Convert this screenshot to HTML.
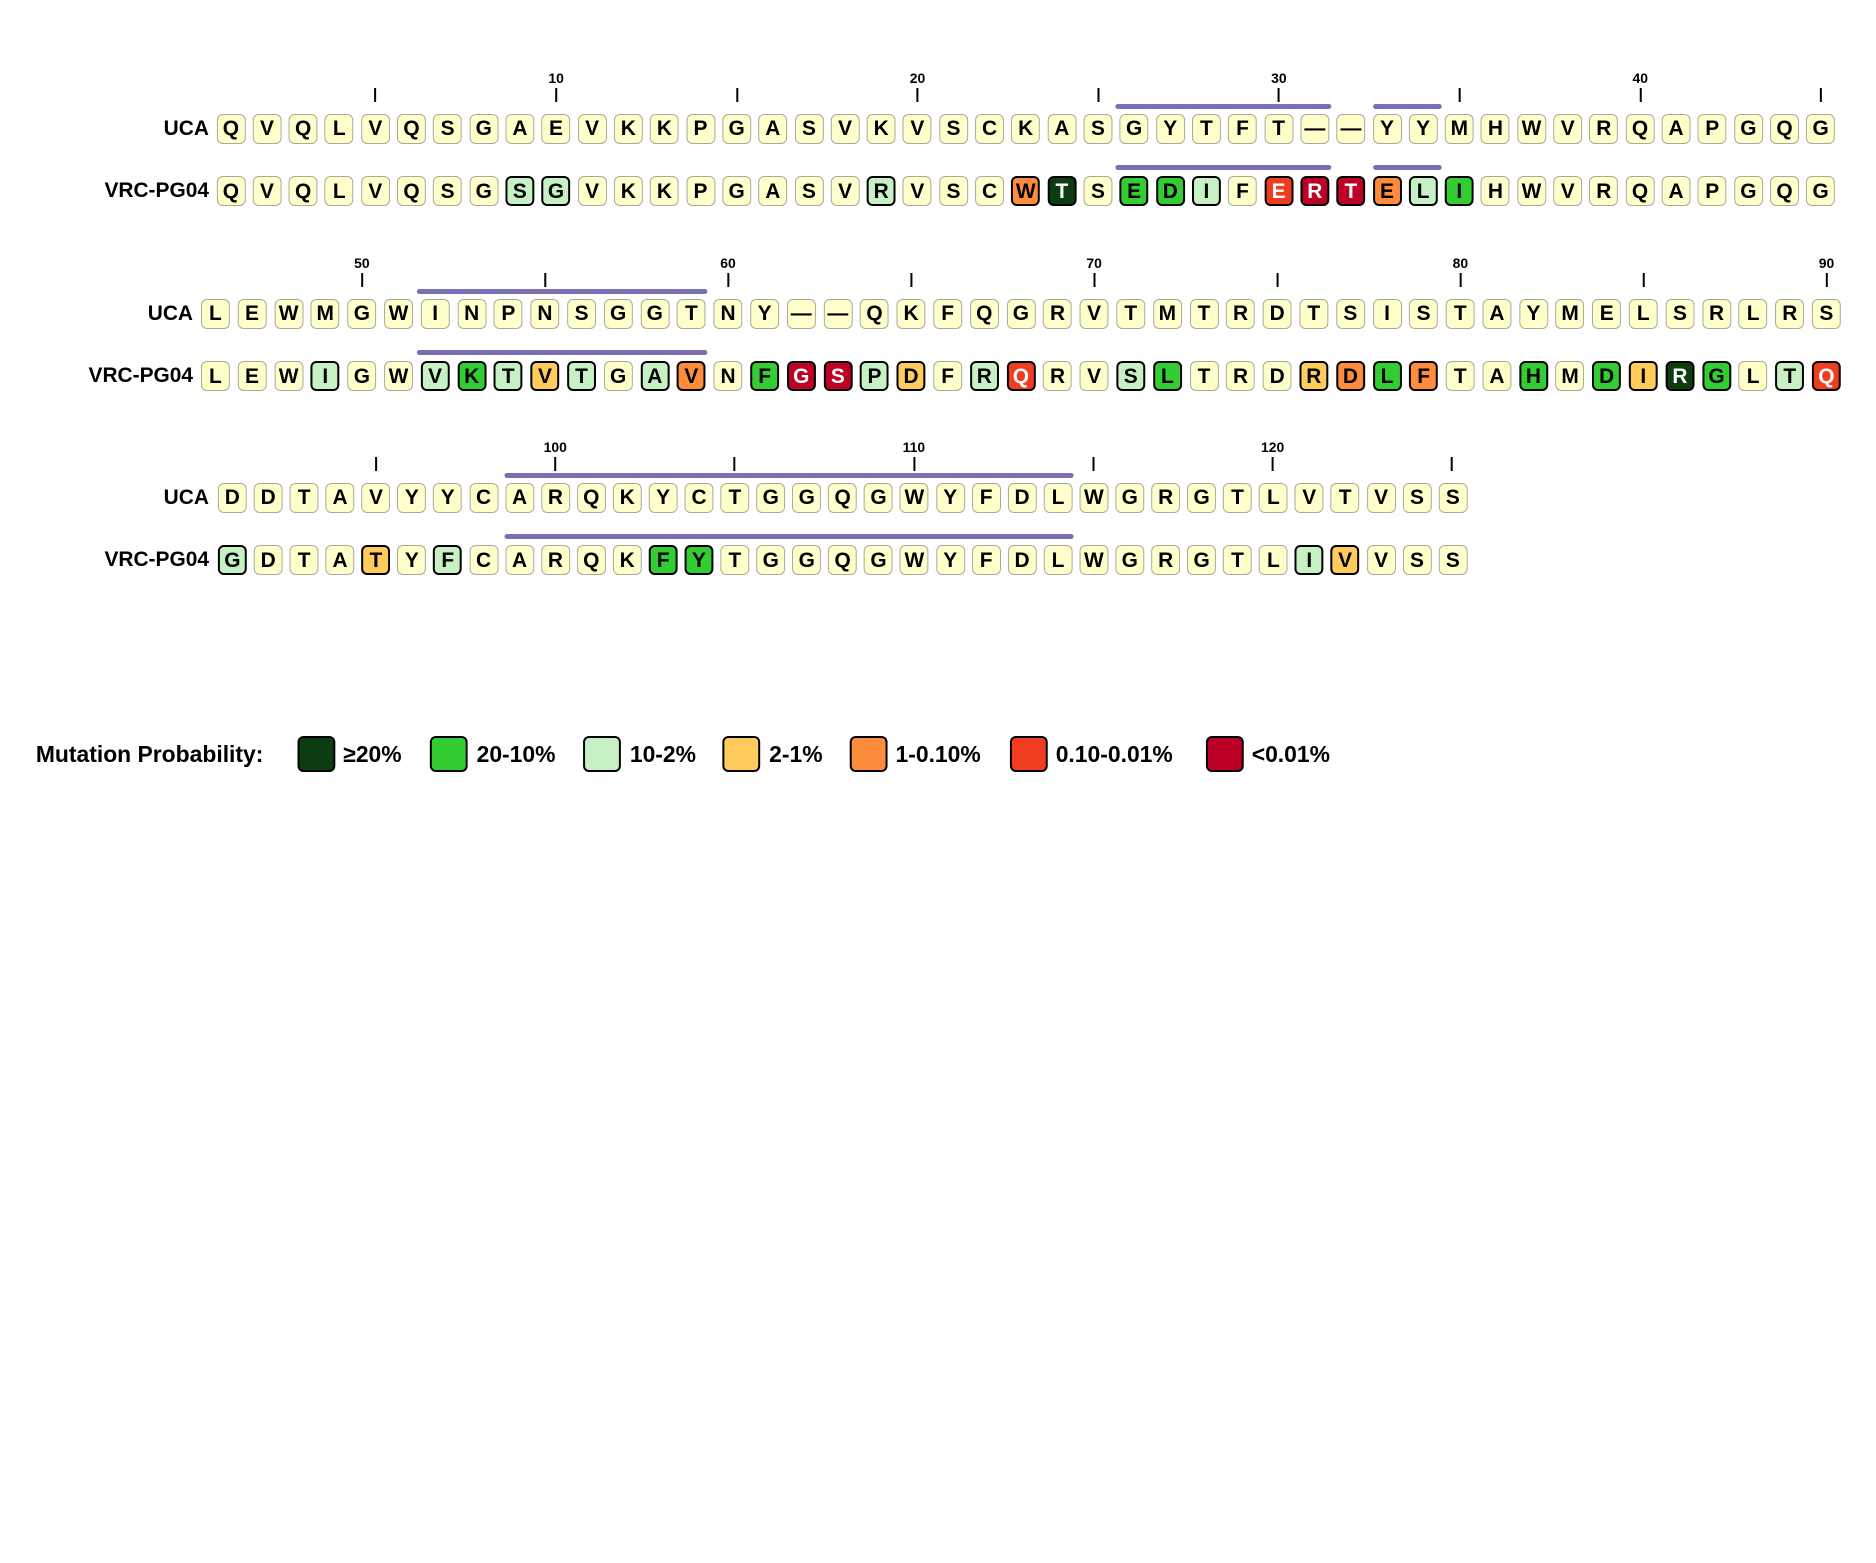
<!DOCTYPE html>
<html><head><meta charset="utf-8"><style>
html,body{margin:0;padding:0;background:#fff}
body{width:1876px;height:1563px;position:relative;overflow:hidden;font-family:"Liberation Sans",sans-serif;font-weight:bold;color:#000}
#w{position:absolute;left:0;top:0;width:1876px;height:1563px;transform:scaleX(0.995);transform-origin:0 0}
.r{position:absolute;display:flex;height:30px}
.r span{width:29px;height:30px;box-sizing:border-box;border:1.5px solid #aaa99a;border-radius:6px;background:#ffffcc;font-size:21px;display:flex;align-items:center;justify-content:center;flex:none;line-height:1}
.r1{left:217.5px;gap:7.32px}
.r2{left:202px;gap:7.8px}
.r3{left:220px;gap:7.08px}
.r span.a,.r span.b,.r span.c,.r span.d,.r span.e,.r span.f,.r span.g{border:2.5px solid #000}
.a{background:#0c3d11!important;color:#fff}
.b{background:#33cc33!important}
.c{background:#c7f0c5!important}
.d{background:#fecb5c!important}
.e{background:#fd8c3c!important}
.f{background:#f03c20!important;color:#fff}
.g{background:#bd0026!important;color:#fff}
.lab{position:absolute;font-size:21px;text-align:right;width:200px;line-height:30px}
.t{position:absolute;width:2px;height:14px;background:#000;margin-left:-1px}
.n{position:absolute;font-size:14px;width:40px;margin-left:-20px;text-align:center;line-height:16px}
.bar{position:absolute;height:5px;background:#7a6fb4;border-radius:3px}
.sw{position:absolute;top:736px;width:38px;height:36px;box-sizing:border-box;border:2px solid #000;border-radius:6px}
.lt{position:absolute;top:741px;font-size:23px;line-height:26px}
</style></head><body><div id="w">

<!-- Block 1 -->
<div class="n" style="left:558.9px;top:70px">10</div>
<div class="n" style="left:922.1px;top:70px">20</div>
<div class="n" style="left:1285.3px;top:70px">30</div>
<div class="n" style="left:1648.5px;top:70px">40</div>
<div class="t" style="left:377.3px;top:88px"></div>
<div class="t" style="left:558.9px;top:88px"></div>
<div class="t" style="left:740.5px;top:88px"></div>
<div class="t" style="left:922.1px;top:88px"></div>
<div class="t" style="left:1103.7px;top:88px"></div>
<div class="t" style="left:1285.3px;top:88px"></div>
<div class="t" style="left:1467px;top:88px"></div>
<div class="t" style="left:1648.5px;top:88px"></div>
<div class="t" style="left:1830.1px;top:88px"></div>
<div class="bar" style="left:1121px;width:217px;top:104px"></div>
<div class="bar" style="left:1380px;width:69px;top:104px"></div>
<div class="bar" style="left:1121px;width:217px;top:165px"></div>
<div class="bar" style="left:1380px;width:69px;top:165px"></div>
<div class="lab" style="left:10px;top:113.7px">UCA</div>
<div class="lab" style="left:10px;top:176.2px">VRC-PG04</div>
<div class="r r1" style="top:113.7px"><span>Q</span><span>V</span><span>Q</span><span>L</span><span>V</span><span>Q</span><span>S</span><span>G</span><span>A</span><span>E</span><span>V</span><span>K</span><span>K</span><span>P</span><span>G</span><span>A</span><span>S</span><span>V</span><span>K</span><span>V</span><span>S</span><span>C</span><span>K</span><span>A</span><span>S</span><span>G</span><span>Y</span><span>T</span><span>F</span><span>T</span><span>—</span><span>—</span><span>Y</span><span>Y</span><span>M</span><span>H</span><span>W</span><span>V</span><span>R</span><span>Q</span><span>A</span><span>P</span><span>G</span><span>Q</span><span>G</span></div>
<div class="r r1" style="top:176.2px"><span>Q</span><span>V</span><span>Q</span><span>L</span><span>V</span><span>Q</span><span>S</span><span>G</span><span class="c">S</span><span class="c">G</span><span>V</span><span>K</span><span>K</span><span>P</span><span>G</span><span>A</span><span>S</span><span>V</span><span class="c">R</span><span>V</span><span>S</span><span>C</span><span class="e">W</span><span class="a">T</span><span>S</span><span class="b">E</span><span class="b">D</span><span class="c">I</span><span>F</span><span class="f">E</span><span class="g">R</span><span class="g">T</span><span class="e">E</span><span class="c">L</span><span class="b">I</span><span>H</span><span>W</span><span>V</span><span>R</span><span>Q</span><span>A</span><span>P</span><span>G</span><span>Q</span><span>G</span></div>

<!-- Block 2 -->
<div class="n" style="left:363.7px;top:255px">50</div>
<div class="n" style="left:731.7px;top:255px">60</div>
<div class="n" style="left:1099.7px;top:255px">70</div>
<div class="n" style="left:1467.7px;top:255px">80</div>
<div class="n" style="left:1835.7px;top:255px">90</div>
<div class="t" style="left:363.7px;top:273px"></div>
<div class="t" style="left:547.7px;top:273px"></div>
<div class="t" style="left:731.7px;top:273px"></div>
<div class="t" style="left:915.7px;top:273px"></div>
<div class="t" style="left:1099.7px;top:273px"></div>
<div class="t" style="left:1283.7px;top:273px"></div>
<div class="t" style="left:1467.7px;top:273px"></div>
<div class="t" style="left:1651.7px;top:273px"></div>
<div class="t" style="left:1835.7px;top:273px"></div>
<div class="bar" style="left:419px;width:292px;top:289px"></div>
<div class="bar" style="left:419px;width:292px;top:350px"></div>
<div class="lab" style="left:-6px;top:298.9px">UCA</div>
<div class="lab" style="left:-6px;top:361.4px">VRC-PG04</div>
<div class="r r2" style="top:298.9px"><span>L</span><span>E</span><span>W</span><span>M</span><span>G</span><span>W</span><span>I</span><span>N</span><span>P</span><span>N</span><span>S</span><span>G</span><span>G</span><span>T</span><span>N</span><span>Y</span><span>—</span><span>—</span><span>Q</span><span>K</span><span>F</span><span>Q</span><span>G</span><span>R</span><span>V</span><span>T</span><span>M</span><span>T</span><span>R</span><span>D</span><span>T</span><span>S</span><span>I</span><span>S</span><span>T</span><span>A</span><span>Y</span><span>M</span><span>E</span><span>L</span><span>S</span><span>R</span><span>L</span><span>R</span><span>S</span></div>
<div class="r r2" style="top:361.4px"><span>L</span><span>E</span><span>W</span><span class="c">I</span><span>G</span><span>W</span><span class="c">V</span><span class="b">K</span><span class="c">T</span><span class="d">V</span><span class="c">T</span><span>G</span><span class="c">A</span><span class="e">V</span><span>N</span><span class="b">F</span><span class="g">G</span><span class="g">S</span><span class="c">P</span><span class="d">D</span><span>F</span><span class="c">R</span><span class="f">Q</span><span>R</span><span>V</span><span class="c">S</span><span class="b">L</span><span>T</span><span>R</span><span>D</span><span class="d">R</span><span class="e">D</span><span class="b">L</span><span class="e">F</span><span>T</span><span>A</span><span class="b">H</span><span>M</span><span class="b">D</span><span class="d">I</span><span class="a">R</span><span class="b">G</span><span>L</span><span class="c">T</span><span class="f">Q</span></div>

<!-- Block 3 -->
<div class="n" style="left:558px;top:439px">100</div>
<div class="n" style="left:918.5px;top:439px">110</div>
<div class="n" style="left:1279px;top:439px">120</div>
<div class="t" style="left:377.6px;top:457px"></div>
<div class="t" style="left:558px;top:457px"></div>
<div class="t" style="left:738.3px;top:457px"></div>
<div class="t" style="left:918.5px;top:457px"></div>
<div class="t" style="left:1098.8px;top:457px"></div>
<div class="t" style="left:1279px;top:457px"></div>
<div class="t" style="left:1459.3px;top:457px"></div>
<div class="bar" style="left:507px;width:572px;top:473px"></div>
<div class="bar" style="left:507px;width:572px;top:534px"></div>
<div class="lab" style="left:10px;top:482.9px">UCA</div>
<div class="lab" style="left:10px;top:545.4px">VRC-PG04</div>
<div class="r r3" style="top:482.9px;left:219px"><span>D</span><span>D</span><span>T</span><span>A</span><span>V</span><span>Y</span><span>Y</span><span>C</span><span>A</span><span>R</span><span>Q</span><span>K</span><span>Y</span><span>C</span><span>T</span><span>G</span><span>G</span><span>Q</span><span>G</span><span>W</span><span>Y</span><span>F</span><span>D</span><span>L</span><span>W</span><span>G</span><span>R</span><span>G</span><span>T</span><span>L</span><span>V</span><span>T</span><span>V</span><span>S</span><span>S</span></div>
<div class="r r3" style="top:545.4px;left:219px"><span class="c">G</span><span>D</span><span>T</span><span>A</span><span class="d">T</span><span>Y</span><span class="c">F</span><span>C</span><span>A</span><span>R</span><span>Q</span><span>K</span><span class="b">F</span><span class="b">Y</span><span>T</span><span>G</span><span>G</span><span>Q</span><span>G</span><span>W</span><span>Y</span><span>F</span><span>D</span><span>L</span><span>W</span><span>G</span><span>R</span><span>G</span><span>T</span><span>L</span><span class="c">I</span><span class="d">V</span><span>V</span><span>S</span><span>S</span></div>

<!-- Legend -->
<div class="lt" style="left:36px">Mutation Probability:</div>
<div class="sw a" style="left:299px"></div><div class="lt" style="left:345px">≥20%</div>
<div class="sw b" style="left:432px"></div><div class="lt" style="left:479px">20-10%</div>
<div class="sw c" style="left:586px"></div><div class="lt" style="left:633px">10-2%</div>
<div class="sw d" style="left:726px"></div><div class="lt" style="left:773px">2-1%</div>
<div class="sw e" style="left:854px"></div><div class="lt" style="left:900px">1-0.10%</div>
<div class="sw f" style="left:1015px"></div><div class="lt" style="left:1061px">0.10-0.01%</div>
<div class="sw g" style="left:1212px"></div><div class="lt" style="left:1258px">&lt;0.01%</div>
</div></body></html>
